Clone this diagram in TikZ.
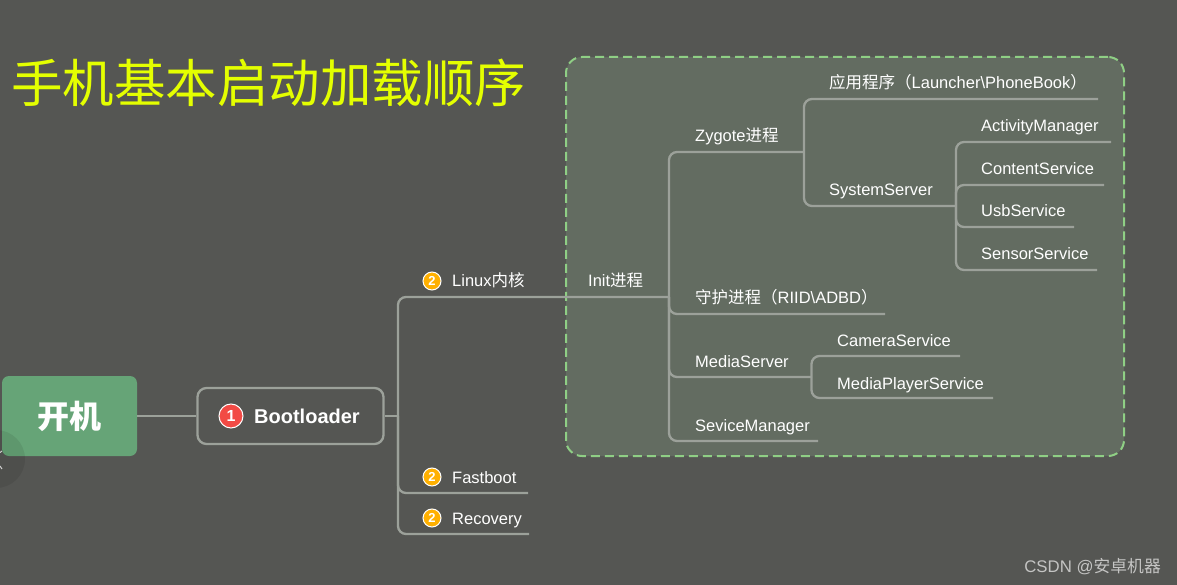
\documentclass[tikz,border=0pt]{standalone}
\usepackage{fontspec}
\setmainfont{Liberation Sans}
\newfontfamily\cjk{Noto Sans CJK SC}
\definecolor{bgc}{HTML}{555653}
\definecolor{panelc}{HTML}{636C61}
\definecolor{dashc}{HTML}{8FCF85}
\definecolor{linec}{HTML}{9CA19A}
\definecolor{greenc}{HTML}{66A477}
\definecolor{titlec}{HTML}{E4FF00}
\definecolor{redc}{HTML}{F24A45}
\definecolor{orangec}{HTML}{FFB000}
\tikzset{
  conn/.style={draw=linec,line width=2.3pt,rounded corners=8pt},
  label/.style={anchor=base west,inner sep=0pt,text=white,font=\fontsize{16.5}{18}\selectfont},
  badgeb/.style={circle,draw=white,line width=1pt,fill=orangec,text=white,inner sep=0pt,minimum size=18pt,font=\fontsize{13}{13}\selectfont\bfseries},
}
\begin{document}
\begin{tikzpicture}[x=1pt,y=-1pt]
\useasboundingbox (0,0) rectangle (1177,585);
\fill[bgc] (0,0) rectangle (1177,585);
\node[anchor=base west,inner sep=0pt,text=titlec,font=\fontsize{51.5}{52}\cjk] (title) at (11,103) {手机基本启动加载顺序};
\node[draw=dashc,fill=panelc,dashed,dash pattern=on 9pt off 5pt,line width=2pt,rounded corners=16pt,minimum width=558pt,minimum height=399pt,inner sep=0pt] (panel) at (845,256.5) {};

\node[fill=greenc,rounded corners=7pt,minimum width=135pt,minimum height=80pt,inner sep=0pt,text=white,font=\fontsize{32}{32}\cjk\bfseries] (start) at (69.5,416) {开机};
\node[draw=linec,line width=2.3pt,rounded corners=9pt,minimum width=186pt,minimum height=56pt,inner sep=0pt] (boot) at (290.5,416) {};
\node[circle,draw=white,line width=1pt,fill=redc,text=white,inner sep=0pt,minimum size=24pt,font=\fontsize{16}{16}\selectfont\bfseries] (b1) at (231,416) {1};
\node[anchor=base west,inner sep=0pt,text=white,font=\fontsize{20}{20}\selectfont\bfseries] (bootl) at (254,423) {Bootloader};

\node[badgeb] (b2a) at (432,281) {2};
\node[badgeb] (b2b) at (432,477) {2};
\node[badgeb] (b2c) at (432,518) {2};
\node[label] (linux) at (452,287) {Linux{\cjk 内核}};
\node[label] (fast) at (452,483) {Fastboot};
\node[label] (reco) at (452,524) {Recovery};
\node[label] (init) at (588,287) {Init{\cjk 进程}};
\node[label] (zyg) at (695,142) {Zygote{\cjk 进程}};
\node[label] (app) at (829,89) {{\cjk 应用程序（}Launcher\textbackslash PhoneBook{\cjk ）}};
\node[label] (sys) at (829,196) {SystemServer};
\node[label] (am) at (981,132) {ActivityManager};
\node[label] (cs) at (981,175) {ContentService};
\node[label] (us) at (981,217) {UsbService};
\node[label] (ss) at (981,260) {SensorService};
\node[label] (dae) at (695,303) {{\cjk 守护进程（}RIID\textbackslash ADBD{\cjk ）}};
\node[label] (ms) at (695,367) {MediaServer};
\node[label] (cam) at (837,346) {CameraService};
\node[label] (mp) at (837,389) {MediaPlayerService};
\node[label] (sm) at (695,431) {SeviceManager};

\coordinate (trunk) at (398,416);
\coordinate (initj) at (669,297);
\coordinate (fastend) at (528,493);
\coordinate (recoend) at (529,534);
\coordinate (zygj) at (804,152);
\coordinate (daeend) at (885,314);
\coordinate (msj) at (811.5,377);
\coordinate (smend) at (818,441);
\coordinate (append) at (1098,99);
\coordinate (sysj) at (956,206);
\coordinate (amend) at (1111,142);
\coordinate (csend) at (1104,185);
\coordinate (usend) at (1074,227);
\coordinate (ssend) at (1097,270);
\coordinate (camend) at (960,356);
\coordinate (mpend) at (993,398);

\draw[conn] (start.east) -- (boot.west);
\draw[conn] (boot.east) -- (trunk);
\draw[conn] (trunk) |- (initj);
\draw[conn] (trunk) |- (fastend);
\draw[conn] (trunk) |- (recoend);
\draw[conn] (initj) |- (zygj);
\draw[conn] (initj) |- (daeend);
\draw[conn] (initj) |- (msj);
\draw[conn] (initj) |- (smend);
\draw[conn] (zygj) |- (append);
\draw[conn] (zygj) |- (sysj);
\draw[conn] (sysj) |- (amend);
\draw[conn] (sysj) |- (csend);
\draw[conn] (sysj) |- (usend);
\draw[conn] (sysj) |- (ssend);
\draw[conn] (msj) |- (camend);
\draw[conn] (msj) |- (mpend);

\fill[black,opacity=0.08] (-4,459) circle (29pt);
\draw[white!70!bgc,line width=1pt] (2,451) -- (0,452.5);
\draw[white!70!bgc,line width=1pt] (0,466) -- (2,469);
\node[anchor=base east,inner sep=0pt,text=white!65!bgc,font=\fontsize{16.8}{18}\selectfont] (mark) at (1161,572) {CSDN @{\cjk 安卓机器}};
\end{tikzpicture}
\end{document}
